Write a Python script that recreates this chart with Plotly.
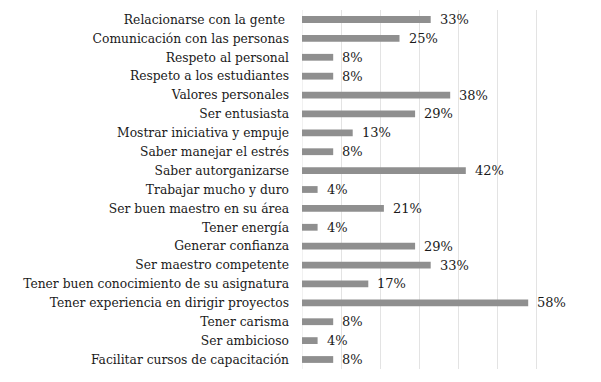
import plotly.graph_objects as go

categories = [
    "Relacionarse con la gente ",
    "Comunicación con las personas",
    "Respeto al personal",
    "Respeto a los estudiantes",
    "Valores personales",
    "Ser entusiasta",
    "Mostrar iniciativa y empuje",
    "Saber manejar el estrés",
    "Saber autorganizarse",
    "Trabajar mucho y duro",
    "Ser buen maestro en su área",
    "Tener energía",
    "Generar confianza",
    "Ser maestro competente",
    "Tener buen conocimiento de su asignatura",
    "Tener experiencia en dirigir proyectos",
    "Tener carisma",
    "Ser ambicioso",
    "Facilitar cursos de capacitación",
]
values = [33, 25, 8, 8, 38, 29, 13, 8, 42, 4, 21, 4, 29, 33, 17, 58, 8, 4, 8]
labels = [f"{v}%" for v in values]

FONT = "DejaVu Serif"

fig = go.Figure()
fig.add_trace(go.Bar(
    x=values, y=categories, orientation="h",
    marker=dict(color="#8f8f8f", line=dict(width=0)),
    width=0.36, hoverinfo="skip",
))

for c, v, t in zip(categories, values, labels):
    fig.add_annotation(x=v, y=c, text=t, showarrow=False, xanchor="left",
                       xshift=7, font=dict(family=FONT, size=13, color="#1a1a1a"))

fig.update_layout(
    width=593, height=374,
    margin=dict(l=294, r=26, t=2, b=13),
    paper_bgcolor="white", plot_bgcolor="white",
    showlegend=False,
    font=dict(family=FONT, size=12.3, color="#1a1a1a"),
    xaxis=dict(range=[0, 70], dtick=10, showgrid=True, gridcolor="#e3e3e3",
               gridwidth=1, showticklabels=False, zeroline=False,
               showline=False, ticks=""),
    yaxis=dict(autorange="reversed", showgrid=False, ticks="", ticklen=0,
               ticklabelstandoff=12, showline=False,
               tickfont=dict(family=FONT, size=12.3, color="#1a1a1a")),
)
fig.add_shape(type="line", xref="x", yref="paper", x0=0, x1=0, y0=0, y1=1,
              line=dict(color="#e3e3e3", width=1), layer="below")

fig.write_html("out.html")
